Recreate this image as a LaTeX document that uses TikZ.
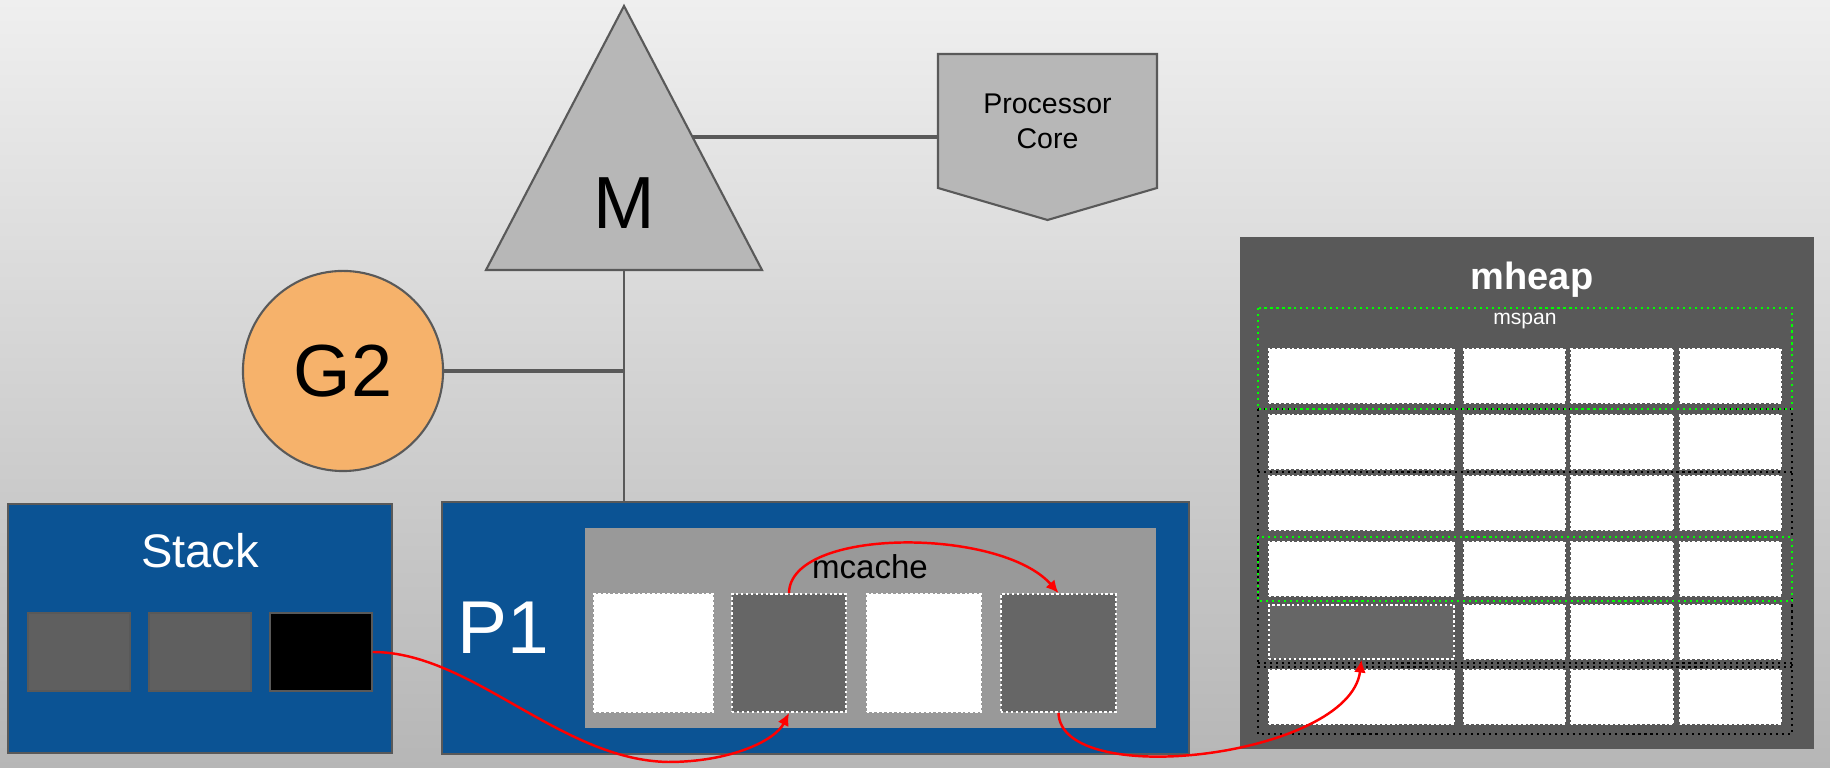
\documentclass[tikz,border=0pt]{standalone}
\usepackage{fontspec}
\setmainfont{Liberation Sans}
\usetikzlibrary{
  arrows.meta,
  positioning, calc
}
\definecolor{bgtop}{HTML}{EFEFEF}
\definecolor{bgbot}{HTML}{B6B6B6}
\definecolor{edgegray}{HTML}{595959}
\definecolor{shapegray}{HTML}{B7B7B7}
\definecolor{procblue}{HTML}{0B5394}
\definecolor{cachegray}{HTML}{999999}
\definecolor{cellgray}{HTML}{666666}
\definecolor{stackgray}{HTML}{5F5F5F}
\definecolor{heapgray}{HTML}{595959}
\definecolor{gorange}{HTML}{F6B26B}
\definecolor{spangreen}{HTML}{00FF00}
\tikzset{
  shapeline/.style={fill=shapegray,draw=edgegray,line width=0.6pt},
  link/.style={draw=edgegray,line width=1.1pt},
  bluebox/.style={rectangle,fill=procblue,draw=edgegray,line width=0.7pt,inner sep=0pt},
  stackcell/.style={rectangle,fill=#1,draw=edgegray,line width=0.4pt,inner sep=0pt,
    minimum width=1.02cm,minimum height=0.78cm},
  cachecell/.style={rectangle,fill=#1,draw=white,line width=0.5pt,
    dash pattern=on 0.7pt off 0.7pt,inner sep=0pt,minimum height=1.18cm},
  heapcell/.style={rectangle,fill=#1,draw=white,line width=0.5pt,
    dash pattern=on 0.7pt off 0.7pt,inner sep=0pt,minimum height=0.54cm},
  spanbox/.style={draw=spangreen,line width=0.6pt,dash pattern=on 0.6pt off 1.1pt},
  pagebox/.style={draw=black,line width=0.6pt,dash pattern=on 0.6pt off 1.1pt},
  flow/.style={-{Latex[length=3.6pt,width=3.4pt]},draw=red,line width=0.7pt}
}

\begin{document}
\begin{tikzpicture}[x=0.01cm,y=-0.01cm]

  % Background
  \shade[top color=bgtop,bottom color=bgbot] (0,0) rectangle (1830,768);
  \useasboundingbox (0,0) rectangle (1830,768);

  % Machine
  \coordinate (Mapex) at (624,6);
  \coordinate (Mleft) at (486,270);
  \coordinate (Mright) at (762,270);
  \coordinate (Mbase) at (624,270);
  \coordinate (Medge) at (692,137);
  \draw[shapeline] (Mapex) -- (Mright) -- (Mleft) -- cycle;
  \node[font=\fontsize{21}{21}\selectfont] (M) at (624,203) {M};

  % Processor core
  \coordinate (coreNW) at (938,54);
  \coordinate (coreSE) at (1157,188);
  \draw[shapeline] (coreNW) -- (coreNW -| coreSE) -- (coreSE) -- (1047.5,220)
    -- (coreNW |- coreSE) -- cycle;
  \node[font=\fontsize{8.1}{10}\selectfont,align=center] (core)
    at ($(coreNW)!0.5!(coreSE)$) {Processor\\Core};

  % Goroutine
  \node[circle,fill=gorange,draw=edgegray,line width=0.6pt,minimum size=2.0cm,inner sep=0pt,
    font=\fontsize{21}{21}\selectfont] (G2) at (343,371) {G2};

  % Links
  \draw[link] (Medge) -- (Medge -| coreNW);
  \draw[link,line width=0.8pt] (Mbase) -- (624,502);
  \draw[link] (G2.east) -- (G2.east -| Mbase);

  % Stack
  \node[bluebox,minimum width=3.84cm,minimum height=2.49cm] (stack) at (200,628.5) {};
  \node[font=\fontsize{13.4}{14}\selectfont,text=white] (stacklbl) at (200,551) {Stack};
  \node[stackcell=stackgray] (stk1) at (79,652) {};
  \node[stackcell=stackgray] (stk2) at (200,652) {};
  \node[stackcell=black] (stk3) at (321,652) {};

  % P1 with mcache
  \node[bluebox,minimum width=7.47cm,minimum height=2.52cm] (P1) at (815.5,628) {};
  \node[font=\fontsize{21.3}{22}\selectfont,text=white] (P1lbl) at (503,628) {P1};
  \node[rectangle,fill=cachegray,inner sep=0pt,minimum width=5.71cm,minimum height=2.0cm]
    (mcache) at (870.5,628) {};
  \node[font=\fontsize{9.4}{10}\selectfont] (mcachelbl) at (870,567) {mcache};
  \node[cachecell=white,minimum width=1.19cm] (mc1) at (653.5,653) {};
  \node[cachecell=cellgray,minimum width=1.14cm] (mc2) at (789,653) {};
  \node[cachecell=white,minimum width=1.14cm] (mc3) at (924,653) {};
  \node[cachecell=cellgray,minimum width=1.15cm] (mc4) at (1058.5,653) {};

  % mheap
  \node[rectangle,fill=heapgray,inner sep=0pt,minimum width=5.74cm,minimum height=5.12cm]
    (mheap) at (1527,493) {};
  \node[font=\bfseries\fontsize{10.8}{12}\selectfont,text=white] (mheaplbl) at (1532,280) {mheap};
  \node[font=\fontsize{6}{7}\selectfont,text=white] (mspanlbl) at (1525,321) {mspan};

  \draw[pagebox] (1258,409) rectangle (1792,734);
  \draw[pagebox] (1258,472) -- (1792,472);
  \draw[pagebox] (1258,663) -- (1792,663);
  \draw[pagebox] (1258,667) -- (1792,667);
  \draw[spanbox] (1258,308) rectangle (1792,409);
  \draw[spanbox] (1258,537) rectangle (1792,601);

  \foreach \row/\y in {1/376,2/442,3/503,4/569,5/632,6/697}{
    \foreach \col/\x/\w in {1/1361.5/1.85,2/1514.5/1.01,3/1622/1.02,4/1730.5/1.01}{
      \def\cellfill{white}
      \ifnum\row=5 \ifnum\col=1 \def\cellfill{cellgray}\fi\fi
      \node[heapcell=\cellfill,minimum width=\w cm] (hp-\row-\col) at (\x,\y) {};
    }
  }

  % Allocation flow
  \draw[flow] (stk3.east) .. controls +(99,0) and +(-108,-2) .. (668,762)
    .. controls +(62,0) and +(-14,28) .. (mc2.south);
  \draw[flow] (mc2.north) .. controls +(1,-66) and +(-58,-66) .. (mc4.north);
  \draw[flow] (mc4.south) .. controls +(2,78) and +(-12,97) .. (hp-5-1.south);

\end{tikzpicture}
\end{document}
